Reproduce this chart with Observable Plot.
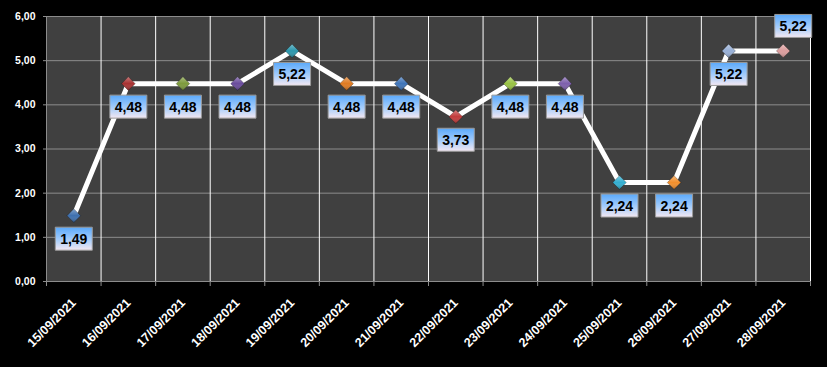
<!DOCTYPE html>
<html>
<head>
<meta charset="utf-8">
<script src="https://cdn.jsdelivr.net/npm/d3@7"></script>
<script src="https://cdn.jsdelivr.net/npm/@observablehq/plot@0.6"></script>
<style>
  html, body { margin: 0; padding: 0; background: #000; }
  #chart svg { display: block; }
</style>
</head>
<body>
<div id="chart"></div>
<script>
const dates = ["15/09/2021","16/09/2021","17/09/2021","18/09/2021","19/09/2021","20/09/2021","21/09/2021",
               "22/09/2021","23/09/2021","24/09/2021","25/09/2021","26/09/2021","27/09/2021","28/09/2021"];
const values = [1.49, 4.48, 4.48, 4.48, 5.22, 4.48, 4.48, 3.73, 4.48, 4.48, 2.24, 2.24, 5.22, 5.22];
const markerColors = ["#3d6fae","#a83232","#7d9a3c","#6a4c9c","#2b97ad","#e07b22","#3f74b8",
                      "#c23b3b","#98c243","#7d5fac","#33aed0","#f28f2c","#97afd6","#dc9d9d"];
const yTicks = [0, 1, 2, 3, 4, 5, 6];

const rows = dates.map((d, i) => ({i, date: d, value: values[i], color: markerColors[i]}));
const last = rows.length - 1;
const boundaries = d3.range(rows.length + 1).map(i => i - 0.5);
const fmt = v => v.toFixed(2).replace(".", ",");

const boxSymbol = {draw(ctx) { ctx.rect(-18.5, -11.5, 37, 23); }};
const font = "'Liberation Sans', Arial, sans-serif";

const labelMarks = (filter, dx, dy) => [
  Plot.dot(rows, {filter, x: "i", y: "value", symbol: boxSymbol, r: 5, dx, dy,
    fill: "url(#lblGrad)", stroke: "#9a9a9a", strokeWidth: 1}),
  Plot.text(rows, {filter, x: "i", y: "value", text: d => fmt(d.value), dx, dy: dy + 1,
    fill: "#000", fontSize: 14, fontWeight: "bold"})
];

const chart = Plot.plot({
  width: 827, height: 367,
  marginLeft: 46, marginRight: 17, marginTop: 16, marginBottom: 86,
  style: {background: "#000", color: "#fff", fontFamily: font},
  x: {type: "linear", domain: [-0.5, rows.length - 0.5], axis: null},
  y: {domain: [0, 6], axis: null},
  marks: [
    Plot.frame({fill: "#404040"}),
    Plot.gridY(yTicks, {stroke: "#8c8c8c", strokeOpacity: 1}),
    Plot.ruleX(boundaries.slice(1), {stroke: "#fff", strokeWidth: 1}),
    Plot.axisX(boundaries, {tickSize: 5, tickFormat: () => "", label: null, stroke: "#8c8c8c", strokeOpacity: 1}),
    Plot.axisY(yTicks, {tickSize: 3, tickPadding: 8, tickFormat: fmt, label: null, stroke: "#8c8c8c", strokeOpacity: 1,
      fill: "#fff", fontWeight: "bold", fontSize: 10.5}),
    Plot.ruleY([0], {stroke: "#8c8c8c"}),
    Plot.ruleX([-0.5], {stroke: "#8c8c8c"}),
    Plot.line(rows, {x: "i", y: "value", stroke: "#fff", strokeWidth: 5, strokeLinejoin: "miter"}),
    Plot.dot(rows, {x: "i", y: "value", symbol: "square", r: 5.4, rotate: 45, fill: "color",
      stroke: "#00000055", strokeWidth: 0.8}),
    Plot.dot(rows, {x: "i", y: "value", symbol: "square", r: 5.4, rotate: 45, fill: "url(#shine)"}),
    ...labelMarks(d => d.i < last, 0, 23),
    ...labelMarks(d => d.i === last, 10, -25),
    Plot.text(rows, {x: "i", text: "date", frameAnchor: "bottom", rotate: -45, textAnchor: "end",
      dx: 3, dy: 22, fill: "#fff", fontSize: 12.5, fontWeight: "bold"})
  ]
});

const defs = d3.select(chart).insert("defs", ":first-child");
const g1 = defs.append("linearGradient").attr("id", "lblGrad").attr("x1", 0).attr("y1", 0).attr("x2", 0).attr("y2", 1);
g1.append("stop").attr("offset", "0%").attr("stop-color", "#5aa9fb");
g1.append("stop").attr("offset", "55%").attr("stop-color", "#a6cdfb");
g1.append("stop").attr("offset", "100%").attr("stop-color", "#f4e8f2");
const g2 = defs.append("linearGradient").attr("id", "shine").attr("x1", 0).attr("y1", 0).attr("x2", 1).attr("y2", 1);
g2.append("stop").attr("offset", "0%").attr("stop-color", "#fff").attr("stop-opacity", 0.35);
g2.append("stop").attr("offset", "50%").attr("stop-color", "#fff").attr("stop-opacity", 0);
g2.append("stop").attr("offset", "100%").attr("stop-color", "#000").attr("stop-opacity", 0.3);

document.getElementById("chart").appendChild(chart);
</script>
</body>
</html>
